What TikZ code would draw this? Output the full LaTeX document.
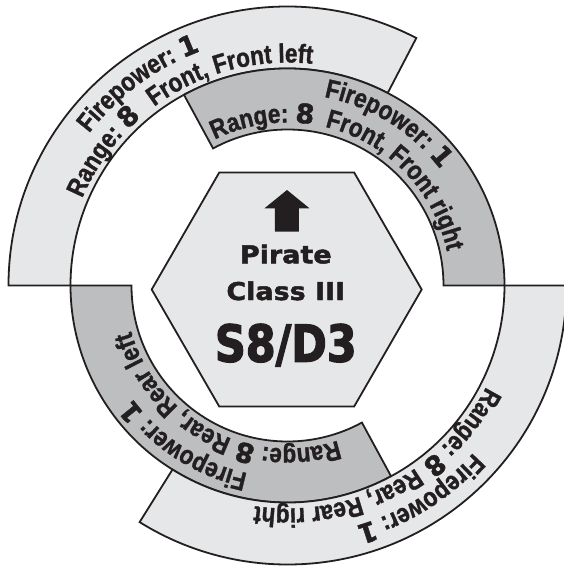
\documentclass[tikz,border=0pt]{standalone}
\usepackage{fontspec}
\usepackage{tikz}
\usetikzlibrary{decorations.text}

\setmainfont{Liberation Sans}
\newfontfamily\ringfont{Liberation Sans}[FakeStretch=0.85,FakeBold=1.2]
\newfontfamily\numfont{DejaVu Sans}[FakeBold=1.5]
\newfontfamily\hexfont{DejaVu Sans}[FakeStretch=1.1,FakeBold=2]
\newfontfamily\bigfont{DejaVu Sans}[FakeStretch=0.84,FakeBold=2.5]
\newcommand\rf{\ringfont\bfseries\fontsize{26.5}{30}\selectfont}
\newcommand\nf{\numfont\bfseries\fontsize{27}{30}\selectfont}

\definecolor{ringlight}{RGB}{230,231,232}
\definecolor{ringdark}{RGB}{188,190,192}
\definecolor{ink}{RGB}{35,31,32}

\tikzset{
  ringseg/.style={draw=ink, line width=1.8pt, line join=miter},
  arctext/.style={decorate, decoration={text along path, text color=ink, text={#1}}},
  hexlabel/.style={anchor=base, text=ink, inner sep=0pt}
}

\begin{document}
\begin{tikzpicture}[x=1pt,y=1pt]
\useasboundingbox (-287.5,-285.5) rectangle (276.5,285.5);
\coordinate (o) at (0,0);
   % arcs of fire
   \foreach \a/\b/\ri/\ro/\c in {62.5/180/217/279/ringlight, 0/118.5/156/217/ringdark,
                                 180/298.5/156/217/ringdark, 238/360/217/279/ringlight}
      \draw[ringseg, fill=\c] (\a:\ri) arc[start angle=\a, end angle=\b, radius=\ri]
         -- (\b:\ro) arc[start angle=\b, end angle=\a, radius=\ro] -- cycle;
   % ship hexagon
   \coordinate (hc) at (-0.8,-4);
   \draw[ringseg, fill=ringlight, shift={(hc)}] (0:135) -- (60:135) -- (120:135)
      -- (180:135) -- (240:135) -- (300:135) -- cycle;
   \fill[ink] (-0.5,95.5) -- (22,77.2) -- (11.5,77.2) -- (11.5,53.8) -- (-12.5,53.8)
      -- (-12.5,77.2) -- (-23,77.2) -- cycle;
   \node[hexlabel, font=\hexfont\bfseries\fontsize{24.5}{28}\selectfont] (pirate) at (-1.7,22.2) {Pirate};
   \node[hexlabel, font=\hexfont\bfseries\fontsize{24.5}{28}\selectfont] (shipclass) at (-1.7,-14.5) {Class III};
   \node[hexlabel, font=\bigfont\bfseries\fontsize{51}{56}\selectfont] (rating) at (-1.7,-76.2) {S8/D3};
   % front left
   \path[arctext={|\rf|Firepower: |\nf|1}] (142.5:250) arc[start angle=142.5, end angle=80, radius=250];
   \path[arctext={|\rf|Range: |\nf|8}] (157:223) arc[start angle=157, end angle=110, radius=223];
   \path[arctext={|\rf|Front, Front left}] (126.7:223) arc[start angle=126.7, end angle=60, radius=223];
   % front right
   \path[arctext={|\rf|Range: |\nf|8}] (116.5:163) arc[start angle=116.5, end angle=60, radius=163];
   \path[arctext={|\rf|Front, Front right}] (76.7:163) arc[start angle=76.7, end angle=-10, radius=163];
   \path[arctext={|\rf|Firepower: |\nf|1}] (79:192) arc[start angle=79, end angle=20, radius=192];
   % rear left
   \path[arctext={|\rf|Range: |\nf|8}] (288:163) arc[start angle=288, end angle=230, radius=163];
   \path[arctext={|\rf|Rear, Rear left}] (250:163) arc[start angle=250, end angle=180, radius=163];
   \path[arctext={|\rf|Firepower: |\nf|1}] (258:192) arc[start angle=258, end angle=200, radius=192];
   % rear right
   \path[arctext={|\rf|Range: |\nf|8}] (333:223) arc[start angle=333, end angle=290, radius=223];
   \path[arctext={|\rf|Rear, Rear right}] (305:223) arc[start angle=305, end angle=240, radius=223];
   \path[arctext={|\rf|Firepower: |\nf|1}] (318:250) arc[start angle=318, end angle=260, radius=250];
\end{tikzpicture}
\end{document}
